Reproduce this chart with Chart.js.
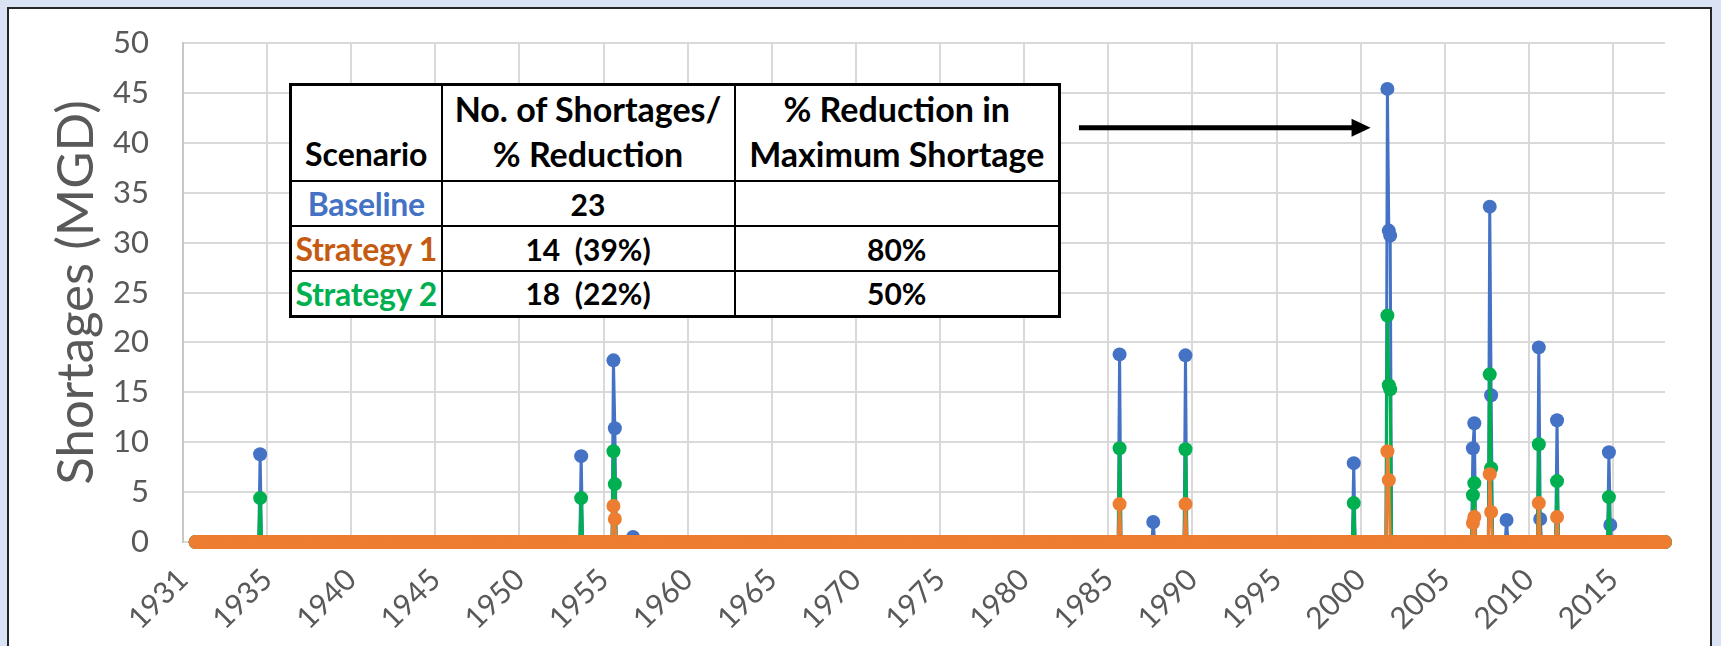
<!DOCTYPE html>
<html lang="en">
<head>
    <meta charset="UTF-8">
    <title>Shortages</title>
    <script src="https://cdn.jsdelivr.net/npm/chart.js"></script>
    <style>
        html, body { margin: 0; padding: 0; }
        body {
            width: 1721px;
            height: 646px;
            overflow: hidden;
            background: #dae3f3;
            position: relative;
            font-family: Lato, "Noto Sans", sans-serif;
        }
        #frame {
            position: absolute;
            left: 7px;
            top: 7px;
            width: 1705px;
            height: 700px;
            box-sizing: border-box;
            background: #fff;
            border: 2px solid #262626;
        }
        #chartBox {
            position: absolute;
            left: 0;
            top: 0;
            width: 1721px;
            height: 646px;
        }
        #summary {
            position: absolute;
            left: 289px;
            top: 83px;
            width: 769px;
            height: 230px;
            border-collapse: collapse;
            background: #fff;
            border: 3px solid #000;
            table-layout: fixed;
            font-weight: 700;
            font-size: 30px;
            color: #000;
        }
        #summary td, #summary th {
            border: 2px solid #000;
            text-align: center;
            padding: 0;
            white-space: nowrap;
        }
        #summary th {
            font-weight: 700;
            font-size: 34px;
            line-height: 45px;
            vertical-align: bottom;
            padding-bottom: 4px;
        }
        #summary th.scen { font-size: 32px; }
        #summary td.scen { font-size: 32px; letter-spacing: -0.3px; }
        #summary tr.head { height: 95px; }
        #summary tr.row { height: 45px; }
    </style>
</head>
<body>
    <div id="frame"></div>
    <div id="chartBox">
        <canvas id="shortChart" width="1721" height="646"></canvas>
    </div>
    <table id="summary">
        <colgroup><col style="width:151px"><col style="width:293px"><col style="width:325px"></colgroup>
        <tr class="head">
            <th class="scen">Scenario</th>
            <th>No. of Shortages/<br>% Reduction</th>
            <th>% Reduction in<br>Maximum Shortage</th>
        </tr>
    </table>

    <script>
        // x axis runs in months from the first labelled tick
        const tickMonths = [0, 60, 120, 180, 240, 300, 360, 420, 480, 540, 600, 660, 720, 780, 840, 900, 960, 1020];
        const tickYears = ['1931', '1935', '1940', '1945', '1950', '1955', '1960', '1965', '1970',
                           '1975', '1980', '1985', '1990', '1995', '2000', '2005', '2010', '2015'];
        const firstMonth = 9;
        const lastMonth = 1057;

        // months with a shortage in at least one scenario (all other months are 0)
        const shortageMonths = [55, 284, 307, 308, 321, 668, 692, 715, 835, 859, 860, 861,
                                920, 921, 932, 933, 944, 967, 968, 980, 1017, 1018];
        const baseline  = [8.8, 8.6, 18.2, 11.4, 0.5, 18.8, 2.0, 18.7, 7.9, 45.4, 31.2, 30.7,
                           9.4, 11.9, 33.6, 14.7, 2.2, 19.5, 2.3, 12.2, 9.0, 1.7];
        const strategy1 = [0, 0, 3.6, 2.3, 0, 3.8, 0, 3.8, 0, 9.1, 6.2, 0,
                           1.9, 2.5, 6.8, 3.0, 0, 3.9, 0, 2.5, 0, 0];
        const strategy2 = [4.4, 4.4, 9.1, 5.8, 0, 9.4, 0, 9.3, 3.9, 22.7, 15.7, 15.3,
                           4.7, 5.9, 16.8, 7.4, 0, 9.8, 0, 6.1, 4.5, 0];

        // summary table
        const scenarioNames = ['Baseline', 'Strategy 1', 'Strategy 2'];
        const scenarioColors = ['#4472c4', '#c55a11', '#00b050'];
        const shortageCounts = ['23', '14\u00a0 (39%)', '18\u00a0 (22%)'];
        const maxReductions = ['', '80%', '50%'];

        const table = document.getElementById('summary');
        scenarioNames.forEach((name, i) => {
            const tr = document.createElement('tr');
            tr.className = 'row';
            tr.innerHTML = `<td class="scen" style="color:${scenarioColors[i]}">${name}</td><td>${shortageCounts[i]}</td><td>${maxReductions[i]}</td>`;
            table.appendChild(tr);
        });

        function monthlySeries(values) {
            const pts = [];
            for (let m = firstMonth; m <= lastMonth; m++) {
                const i = shortageMonths.indexOf(m);
                pts.push({ x: m, y: i >= 0 ? values[i] : 0 });
            }
            return pts;
        }

        // arrow pointing at the baseline maximum
        const arrowPlugin = {
            id: 'peakArrow',
            afterDatasetsDraw(chart) {
                const ctx = chart.ctx;
                const xs = chart.scales.x, ys = chart.scales.y;
                const x0 = xs.getPixelForValue(639);
                const x1 = xs.getPixelForValue(847);
                const y = ys.getPixelForValue(41.5);
                ctx.save();
                ctx.fillStyle = '#000';
                ctx.strokeStyle = '#000';
                ctx.lineWidth = 5;
                ctx.beginPath();
                ctx.moveTo(x0, y);
                ctx.lineTo(x1 - 16, y);
                ctx.stroke();
                ctx.beginPath();
                ctx.moveTo(x1 - 19, y - 9);
                ctx.lineTo(x1, y);
                ctx.lineTo(x1 - 19, y + 9);
                ctx.closePath();
                ctx.fill();
                ctx.restore();
            }
        };

        const lineStyle = (label, color, values, order) => ({
            label: label,
            data: monthlySeries(values),
            borderColor: color,
            backgroundColor: color,
            borderWidth: 3,
            pointRadius: 7,
            pointHoverRadius: 7,
            pointBorderWidth: 0,
            tension: 0,
            order: order,
            clip: false
        });

        Chart.defaults.font.family = 'Lato, "Noto Sans", sans-serif';

        new Chart(document.getElementById('shortChart'), {
            type: 'line',
            data: {
                datasets: [
                    lineStyle('Baseline', '#4472c4', baseline, 3),
                    lineStyle('Strategy 2', '#00b050', strategy2, 2),
                    lineStyle('Strategy 1', '#ed7d31', strategy1, 1)
                ]
            },
            options: {
                responsive: false,
                animation: false,
                devicePixelRatio: 1,
                events: [],
                layout: { padding: { left: 0, top: 43, right: 56, bottom: 0 } },
                plugins: {
                    legend: { display: false },
                    tooltip: { enabled: false }
                },
                scales: {
                    x: {
                        type: 'linear',
                        min: 0,
                        max: lastMonth,
                        afterBuildTicks: s => { s.ticks = tickMonths.map(v => ({ value: v })); },
                        afterFit: s => { s.height = 104; },
                        grid: { color: '#d9d9d9', lineWidth: 2, drawTicks: false },
                        border: { display: false },
                        ticks: {
                            autoSkip: false,
                            minRotation: 45,
                            maxRotation: 45,
                            padding: 20,
                            color: '#595959',
                            font: { size: 30 },
                            callback: (v) => {
                                const i = tickMonths.indexOf(v);
                                return i >= 0 ? tickYears[i] : '';
                            }
                        }
                    },
                    y: {
                        min: 0,
                        max: 50,
                        afterFit: s => {
                            s.width = 183;
                            s.paddingTop = 0;
                            s.paddingBottom = 0;
                        },
                        grid: { color: '#d9d9d9', lineWidth: 2, drawTicks: false },
                        border: { color: '#c8c8c8', width: 2 },
                        ticks: {
                            stepSize: 5,
                            padding: 34,
                            color: '#595959',
                            font: { size: 31 }
                        },
                        title: {
                            display: true,
                            text: 'Shortages (MGD)',
                            color: '#595959',
                            font: { size: 51 },
                            padding: { top: 46, bottom: 0 }
                        }
                    }
                }
            },
            plugins: [arrowPlugin]
        });
    </script>
</body>
</html>
